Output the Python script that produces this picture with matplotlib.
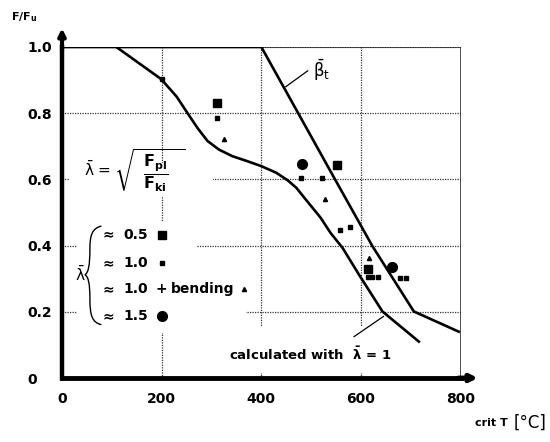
import matplotlib
matplotlib.use("Agg")
import matplotlib.pyplot as plt
from matplotlib.patches import Rectangle, PathPatch
from matplotlib.path import Path

# curves (crit T in degC, F/Fu)
beta_T = [0, 400, 546, 623, 706, 796]
beta_y = [1.0, 1.0, 0.605, 0.398, 0.201, 0.14]
calc_T = [109, 199, 230, 252, 272, 292, 315, 342, 370, 400, 430, 453, 470,
          486, 519, 539, 563, 596, 643, 716]
calc_y = [1.0, 0.903, 0.85, 0.8, 0.755, 0.716, 0.69, 0.67, 0.656, 0.64, 0.62,
          0.597, 0.575, 0.545, 0.484, 0.438, 0.393, 0.312, 0.201, 0.11]

# test points
sq_T = [311, 551, 613]
sq_y = [0.83, 0.645, 0.33]
dot_T = [200, 312, 479, 521, 557, 578, 613, 623, 634, 678, 691]
dot_y = [0.903, 0.784, 0.603, 0.603, 0.446, 0.456, 0.305, 0.305, 0.305, 0.302, 0.302]
tri_T = [325, 527, 616]
tri_y = [0.723, 0.542, 0.363]
circ_T = [481, 663]
circ_y = [0.647, 0.335]

xticks = [0, 200, 400, 600, 800]
yticks = [0, 0.2, 0.4, 0.6, 0.8, 1.0]
ytick_labels = ["0", "0.2", "0.4", "0.6", "0.8", "1.0"]

legend_vals = ["0.5", "1.0", "1.0", "1.5"]
legend_y = [0.433, 0.347, 0.269, 0.188]

plt.rcParams['font.family'] = ['DejaVu Sans']
plt.rcParams['mathtext.default'] = 'regular'

fig = plt.figure(figsize=(5.5, 4.42), dpi=100)
ax = fig.add_axes([62/550, 64/442, 398.7/550, 331/442])
ax.set_xlim(0, 800)
ax.set_ylim(0, 1.0)

# grid
ax.set_xticks(xticks)
ax.set_yticks(yticks)
ax.set_xticklabels([str(t) for t in xticks], fontsize=10, fontweight='bold')
ax.set_yticklabels(ytick_labels, fontsize=10, fontweight='bold')
for lab in ax.get_yticklabels():
    lab.set_horizontalalignment('left')
ax.tick_params(length=0)
ax.tick_params(axis='y', pad=25)
ax.tick_params(axis='x', pad=10)
ax.grid(True, color='#333333', linestyle=(0, (1, 1)), linewidth=0.9)
ax.set_axisbelow(True)
ax.axhline(1.0, color='#222222', lw=1.1, zorder=1)
ax.axvline(800, color='#222222', lw=1.1, zorder=1)

for s in ['top', 'right']:
    ax.spines[s].set_visible(False)
ax.spines['left'].set_linewidth(3.2)
ax.spines['bottom'].set_linewidth(3.5)

# arrows on axes
ax.annotate('', xy=(0, 1.065), xytext=(0, 0.98), annotation_clip=False,
            arrowprops=dict(arrowstyle='-|>', color='k', lw=3, mutation_scale=10))
ax.annotate('', xy=(840, 0), xytext=(790, 0), annotation_clip=False,
            arrowprops=dict(arrowstyle='-|>', color='k', lw=3.5, mutation_scale=10))

# white areas where the grid is interrupted
ax.add_patch(Rectangle((30, 0.135), 240, 0.34, facecolor='white', edgecolor='none', zorder=1.5))
ax.add_patch(Rectangle((270, 0.17), 100, 0.06, facecolor='white', edgecolor='none', zorder=1.5))
ax.add_patch(Rectangle((16, 0.55), 286, 0.1, facecolor='white', edgecolor='none', zorder=1.5))
ax.add_patch(Rectangle((330, 0.015), 350, 0.14, facecolor='white', edgecolor='none', zorder=1.5))

# curves
ax.plot(beta_T, beta_y, color='k', lw=1.9, zorder=3)
ax.plot(calc_T, calc_y, color='k', lw=1.9, zorder=3)

# points
ax.plot(sq_T, sq_y, 's', color='k', ms=5.5, zorder=4)
ax.plot(dot_T, dot_y, 's', color='k', ms=2.2, zorder=4)
ax.plot(tri_T, tri_y, '^', color='k', ms=3, zorder=4)
ax.plot(circ_T, circ_y, 'o', color='k', ms=7, zorder=4)

# labels on the curves
ax.plot([449, 493], [0.88, 0.928], color='k', lw=0.9, zorder=3)
ax.text(503, 0.93, r'$\bar{\beta}_t$', fontsize=12, va='center', ha='left', zorder=5)
ax.plot([586, 645], [0.125, 0.186], color='k', lw=0.9, zorder=3)
ax.text(336, 0.07, r'calculated with  $\bar{\lambda}$ = 1', fontsize=9.5,
        fontweight='bold', va='center', ha='left', zorder=5)

# slenderness formula
ax.text(44, 0.63, r'$\bar{\lambda}$ =', fontsize=11, va='center', ha='left', zorder=5)
ax.text(104, 0.625, r'$\sqrt{\;\;\dfrac{\mathbf{F_{pl}}}{\mathbf{F_{ki}}}\;\;\;}$', fontsize=11.5,
        va='center', ha='left', zorder=5)

# legend block
for v, yy in zip(legend_vals, legend_y):
    ax.text(92, yy, '≈', fontsize=10, fontweight='bold', va='center', ha='center', zorder=5)
    ax.text(124, yy, v, fontsize=10, fontweight='bold', va='center', ha='left', zorder=5)
ax.plot([200], [legend_y[0]], 's', color='k', ms=5.5, zorder=4)
ax.plot([200], [legend_y[1]], 's', color='k', ms=2.2, zorder=4)
ax.text(200, legend_y[2], '+', fontsize=10, fontweight='bold', va='center', ha='center', zorder=5)
ax.text(218, legend_y[2], 'bending', fontsize=10, fontweight='bold', va='center', ha='left', zorder=5)
ax.plot([366], [legend_y[2]], '^', color='k', ms=3, zorder=4)
ax.plot([200], [legend_y[3]], 'o', color='k', ms=7, zorder=4)

# brace and lambda
verts = [(79, 0.459), (60, 0.452), (56, 0.43), (56, 0.39),
         (56, 0.34), (53, 0.318), (46, 0.312),
         (53, 0.306), (56, 0.285), (56, 0.24),
         (56, 0.19), (60, 0.168), (79, 0.161)]
codes = [Path.MOVETO] + [Path.CURVE4] * 12
ax.add_patch(PathPatch(Path(verts, codes), facecolor='none', edgecolor='k', lw=1.0, zorder=4))
ax.text(36, 0.312, r'$\bar{\lambda}$', fontsize=11, va='center', ha='center', zorder=5)

# axis titles
fig.text(24/550, 1 - 17/442, 'F/F$_u$', fontsize=8, fontweight='bold', ha='center', va='center')
fig.text(508/550, 1 - 423/442, 'crit T', fontsize=8, fontweight='bold', ha='right', va='center')
fig.text(530/550, 1 - 423/442, '[°C]', fontsize=12, ha='center', va='center')

fig.savefig('out.png', dpi=100)
